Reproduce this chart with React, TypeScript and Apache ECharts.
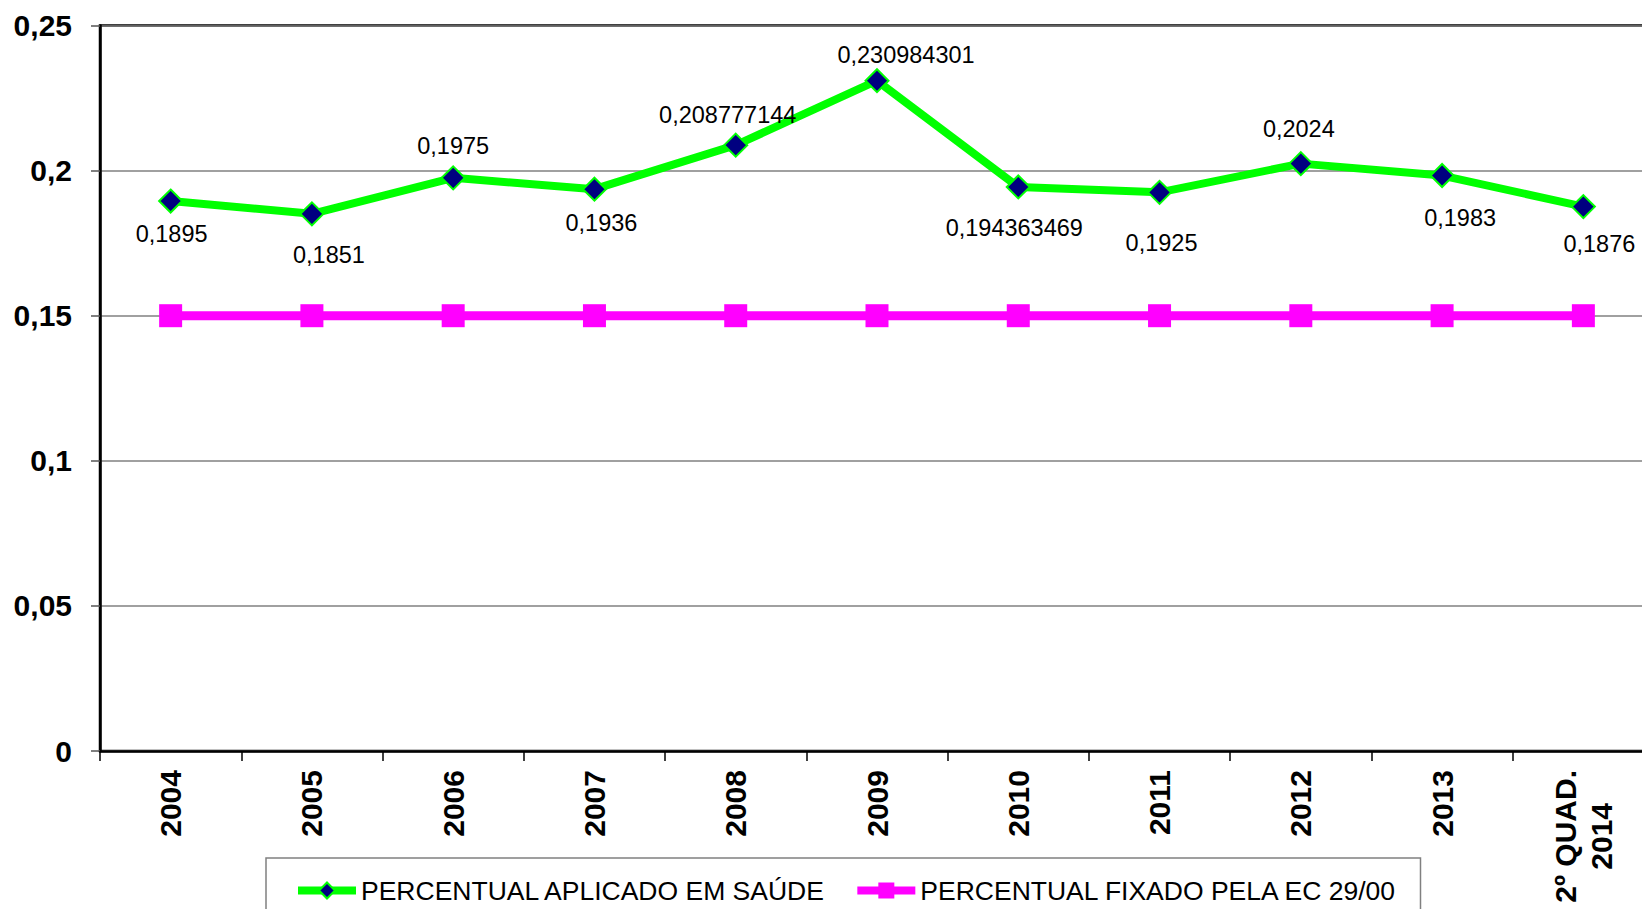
import React, { useEffect, useRef } from "react";
import * as echarts from "echarts";

const categories = ["2004", "2005", "2006", "2007", "2008", "2009", "2010", "2011", "2012", "2013", "2º QUAD.\n2014"];
const aplicado = [0.1895, 0.1851, 0.1975, 0.1936, 0.208777144, 0.230984301, 0.194363469, 0.1925, 0.2024, 0.1983, 0.1876];
const fixado = [0.15, 0.15, 0.15, 0.15, 0.15, 0.15, 0.15, 0.15, 0.15, 0.15, 0.15];
const yTicks = { min: 0, max: 0.25, interval: 0.05 };
// label placement (styling) for each data label of the green series: [dx, dy]
const labelOffsets: [number, number][] = [
  [1, 33], [17, 41], [0, -32], [7, 34], [-8, -30], [29, -26],
  [-4, 41], [2, 51], [-2, -35], [18, 42], [16, 37],
];

const FONT = "'Liberation Sans', Arial, sans-serif";

export default function App() {
  const ref = useRef<HTMLDivElement>(null);
  useEffect(() => {
    if (!ref.current) return;
    const chart = echarts.init(ref.current, undefined, { renderer: "svg" });
    const fmt = (v: number) => String(v).replace(".", ",");
    chart.setOption({
      animation: false,
      backgroundColor: "#fff",
      textStyle: { fontFamily: FONT },
      grid: {
        left: 100,
        top: 25.5,
        width: 1554,
        height: 725.5,
        show: true,
        borderColor: "#000",
        borderWidth: 2.5,
        containLabel: false,
        outerBoundsMode: "none",
      },
      legend: {
        left: 266,
        top: 858,
        padding: [19, 23, 22, 28],
        borderColor: "#808080",
        borderWidth: 1.5,
        itemGap: 27,
        itemWidth: 58,
        itemHeight: 20,
        lineStyle: { width: 8 },
        textStyle: { fontSize: 26.5, color: "#000", fontFamily: FONT },
        data: ["PERCENTUAL APLICADO EM SAÚDE", "PERCENTUAL FIXADO PELA EC 29/00"],
      },
      xAxis: {
        type: "category",
        data: categories,
        boundaryGap: true,
        axisLine: { lineStyle: { color: "#000", width: 2.5 } },
        axisTick: { show: true, length: 10, lineStyle: { color: "#000", width: 1.5 } },
        axisLabel: {
          interval: 0,
          rotate: 90,
          margin: 19,
          fontSize: 30,
          fontWeight: "bold",
          color: "#000",
          fontFamily: FONT,
          formatter: (v: string) =>
            v.indexOf("\n") >= 0 ? v.split("\n").map((s) => `{c|${s}}`).join("\n") : v,
          rich: {
            c: { align: "center", fontSize: 30, fontWeight: "bold", color: "#000", fontFamily: FONT, lineHeight: 36 },
          },
        },
      },
      yAxis: {
        type: "value",
        min: yTicks.min,
        max: yTicks.max,
        interval: yTicks.interval,
        axisLine: { show: true, lineStyle: { color: "#000", width: 2.5 } },
        axisTick: { show: true, length: 9, lineStyle: { color: "#555", width: 1.5 } },
        splitLine: { show: true, lineStyle: { color: "#808080", width: 1.5 } },
        axisLabel: {
          margin: 28,
          fontSize: 30,
          fontWeight: "bold",
          color: "#000",
          fontFamily: FONT,
          formatter: (v: number) => String(+v.toFixed(2)).replace(".", ","),
        },
      },
      series: [
        {
          name: "PERCENTUAL FIXADO PELA EC 29/00",
          type: "line",
          data: fixado,
          symbol: "rect",
          symbolSize: 23,
          lineStyle: { color: "#FF00FF", width: 9 },
          itemStyle: { color: "#FF00FF" },
          z: 2,
        },
        {
          name: "PERCENTUAL APLICADO EM SAÚDE",
          type: "line",
          data: aplicado.map((v, i) => ({
            value: v,
            label: { offset: labelOffsets[i] },
          })),
          symbol: "diamond",
          symbolSize: 23,
          lineStyle: { color: "#00FF00", width: 8 },
          itemStyle: { color: "#000080", borderColor: "#00FF00", borderWidth: 2 },
          label: {
            show: true,
            position: "inside",
            fontSize: 23.5,
            color: "#000",
            fontFamily: FONT,
            formatter: (p: any) => fmt(p.value),
          },
          z: 3,
        },
      ],
    });
    return () => chart.dispose();
  }, []);
  return (
    <div
      ref={ref}
      style={{ position: "absolute", left: 0, top: 0, width: 1642, height: 909, overflow: "hidden" }}
    />
  );
}
